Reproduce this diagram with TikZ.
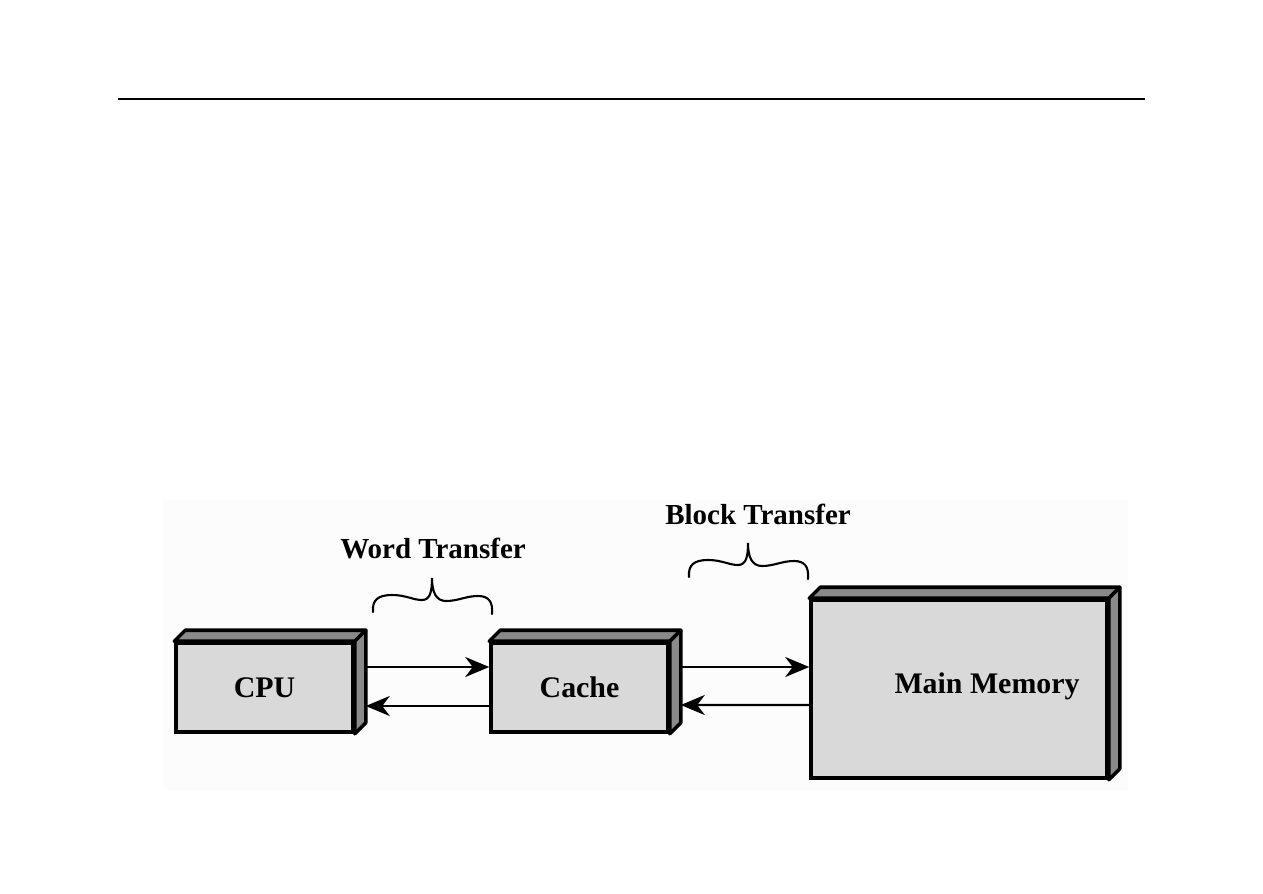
\documentclass[tikz,border=0pt]{standalone}
\usepackage{fontspec}
\setmainfont{Liberation Serif}
\usepackage{tikz}
\usetikzlibrary{arrows.meta, positioning}
\definecolor{facegray}{RGB}{217,217,217}
\definecolor{sidegray}{RGB}{138,138,138}
\tikzset{
  front/.style={draw=black, line width=2pt, fill=facegray, inner sep=0pt,
    font=\fontsize{17}{20}\selectfont\bfseries},
  depth/.style={draw=black, line width=2pt, fill=sidegray, line join=round},
  xfer/.style={-{Stealth[length=4.8mm, width=4mm, inset=1.5mm]}, line width=1.4pt},
  hd/.style={font=\fontsize{16.5}{20}\selectfont\bfseries},
  brace/.style={line width=1.2pt, line cap=round},
}
\begin{document}
\begin{tikzpicture}[x=0.2mm, y=-0.2mm]
  \useasboundingbox (0,0) rectangle (1263,893);
  % rule and backdrop
  \draw[line width=1pt] (118,99) -- (1145,99);
  \fill[black!1] (163,500) rectangle (1128,790);
  % boxes
  \node[front, minimum width=3.54cm, minimum height=1.78cm] (cpu) at (264.5,687.5) {CPU};
  \node[front, minimum width=3.54cm, minimum height=1.78cm] (cache) at (579.5,687.5) {Cache};
  \node[front, minimum width=5.92cm, minimum height=3.56cm] (mem) at (959,689) {};
  \node[front, draw=none, fill=none] (memtxt) at (987,686) {Main Memory};
  \foreach \b in {cpu, cache, mem} {
    \draw[depth] (\b.north west) -- ++(11,-11) -- ([shift={(11,-11)}]\b.north east) -- (\b.north east) -- cycle;
    \draw[depth] (\b.north east) -- ++(11,-11) -- ([shift={(11,-11)}]\b.south east) -- (\b.south east) -- cycle;
  }
  % transfers
  \draw[xfer] ([shift={(11,-20.5)}]cpu.east) -- ([shift={(0,-20.5)}]cache.west);
  \draw[xfer] ([shift={(0,18.5)}]cache.west) -- ([shift={(11,18.5)}]cpu.east);
  \draw[xfer] ([shift={(11,-20.5)}]cache.east) -- ([shift={(0,-22)}]mem.west);
  \draw[xfer] ([shift={(0,16)}]mem.west) -- ([shift={(11,17.5)}]cache.east);
  % labels and braces
  \node[hd] (word) at (433,549) {Word Transfer};
  \node[hd] (block) at (758,514) {Block Transfer};
  \foreach \s/\w in {0/0, 316/-35} {
    \draw[brace, shift={(\s,\w)}] (373,612) .. controls (372,600) and (378,595) .. (392,595)
      .. controls (406,595) and (413,600) .. (422,600) .. controls (430,600) and (432,592) .. (432,578)
      .. controls (432,592) and (436,601) .. (446,601) .. controls (458,601) and (466,596) .. (478,596)
      .. controls (489,596) and (493,602) .. (492,614);
  }
\end{tikzpicture}
\end{document}
